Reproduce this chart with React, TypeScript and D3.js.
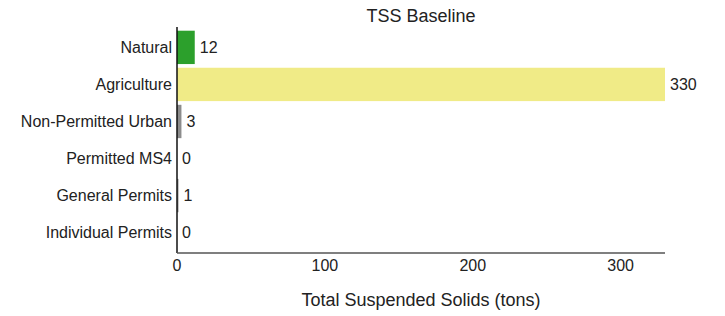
import React from 'react';
import * as d3 from 'd3';

const categories = ['Natural', 'Agriculture', 'Non-Permitted Urban', 'Permitted MS4', 'General Permits', 'Individual Permits'];
const values = [12, 330, 3, 0, 1, 0];
const barColors = ['#2ca02c', '#f0eb87', '#8c8c8c', '#8c8c8c', '#8c8c8c', '#8c8c8c'];
const xTicks = [0, 100, 200, 300];

const width = 725;
const height = 316;
const margin = { left: 177, right: 60, top: 27, bottom: 65 };

export default function App() {
  const x = d3.scaleLinear()
    .domain([0, 330])
    .range([margin.left, width - margin.right]);

  const y = d3.scaleBand()
    .domain(categories)
    .range([margin.top, height - margin.bottom + 2])
    .padding(0.1);

  const axisY = height - margin.bottom + 2;
  const font = 'Liberation Sans, Arial, sans-serif';

  return (
    <svg width={width} height={height} style={{ position: 'absolute', left: 0, top: 0, background: '#fff' }} fontFamily={font}>
      <text x={421} y={22} textAnchor="middle" fontSize={18} fill="#222">TSS Baseline</text>

      {categories.map((c, i) => (
        <g key={c}>
          <rect
            x={x(0)}
            y={y(c)}
            width={x(values[i]) - x(0)}
            height={y.bandwidth()}
            fill={barColors[i]}
          />
          <text
            x={x(values[i]) + 5}
            y={(y(c) as number) + y.bandwidth() / 2}
            dy="0.35em"
            fontSize={16}
            fill="#222"
          >{values[i]}</text>
          <text
            x={x(0) - 5}
            y={(y(c) as number) + y.bandwidth() / 2}
            dy="0.35em"
            textAnchor="end"
            fontSize={16}
            fill="#222"
          >{c}</text>
        </g>
      ))}

      <line x1={x(0)} x2={x(0)} y1={margin.top} y2={axisY} stroke="#111" strokeWidth={1.5} />
      <line x1={x(0)} x2={x(330)} y1={axisY} y2={axisY} stroke="#555" strokeWidth={1.5} />

      {xTicks.map(t => (
        <text key={t} x={x(t)} y={axisY + 18} textAnchor="middle" fontSize={16} fill="#222">{t}</text>
      ))}

      <text x={421} y={306} textAnchor="middle" fontSize={18} fill="#222">Total Suspended Solids (tons)</text>
    </svg>
  );
}
